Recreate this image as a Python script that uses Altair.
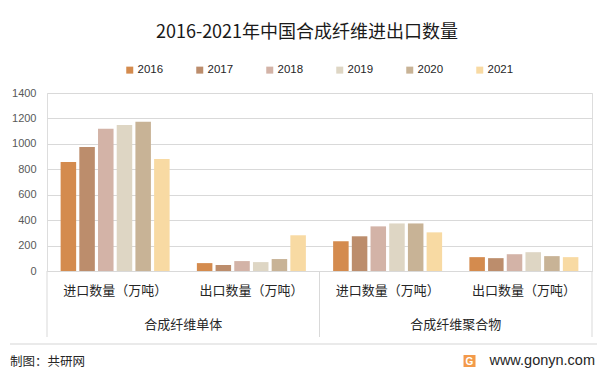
import altair as alt
import pandas as pd

# ---------------- data ----------------
TITLE = "2016-2021年中国合成纤维进出口数量"
groups = ["合成纤维单体", "合成纤维聚合物"]
cats = ["进口数量（万吨）", "出口数量（万吨）"]
years = ["2016", "2017", "2018", "2019", "2020", "2021"]
colors = ["#D48B4E", "#BC8D6C", "#D3B3A7", "#DED6C4", "#C8B396", "#F8DAA3"]

monomer_import = [858, 976, 1118, 1149, 1173, 881]
monomer_export = [62, 47, 78, 70, 94, 281]
polymer_import = [234, 273, 351, 374, 374, 304]
polymer_export = [109, 101, 132, 148, 117, 109]

y_ticks = [0, 200, 400, 600, 800, 1000, 1200, 1400]
source_note = "制图：共研网"
site = "www.gonyn.com"

series = {
    (groups[0], cats[0]): monomer_import,
    (groups[0], cats[1]): monomer_export,
    (groups[1], cats[0]): polymer_import,
    (groups[1], cats[1]): polymer_export,
}

rows = []
keys = []
for g in groups:
    for c in cats:
        k = g + "|" + c
        keys.append(k)
        for y, v in zip(years, series[(g, c)]):
            rows.append({"key": k, "group": g, "cat": c, "year": y, "value": v})
df = pd.DataFrame(rows)

CJK = "Noto Sans CJK SC"
LAT = "Liberation Sans"
W, H = 545, 178
GRID = "#D9D9D9"

bars = alt.Chart(df).mark_bar().encode(
    x=alt.X("key:N", sort=keys,
            scale=alt.Scale(paddingInner=0.2, paddingOuter=0.1),
            axis=alt.Axis(title=None, labelExpr="split(datum.label, '|')[1]",
                          labelAngle=0, ticks=False, domainColor=GRID,
                          labelFont=CJK, labelFontSize=13, labelColor="#262626",
                          labelPadding=13, grid=False)),
    xOffset=alt.XOffset("year:N", sort=years,
                        scale=alt.Scale(paddingInner=0.17, paddingOuter=0)),
    y=alt.Y("value:Q", scale=alt.Scale(domain=[0, 1400]),
            axis=alt.Axis(title=None, values=y_ticks, format="d", domain=False, ticks=False,
                          gridColor=GRID, labelFont=LAT, labelFontSize=11,
                          labelColor="#595959", labelPadding=11)),
    color=alt.Color("year:N", sort=years,
                    scale=alt.Scale(domain=years, range=colors),
                    legend=alt.Legend(title=None, orient="none", legendX=77, legendY=-29,
                                      direction="horizontal", columns=6,
                                      symbolType="square", symbolSize=49,
                                      symbolStrokeWidth=0, labelFont=LAT,
                                      labelFontSize=11.5, labelColor="#262626",
                                      columnPadding=30, labelOffset=2, padding=0)),
)

gdf = pd.DataFrame({"group": groups})
gscale = alt.Scale(domain=groups, paddingInner=0, paddingOuter=0)

group_labels = alt.Chart(gdf).mark_text(font=CJK, fontSize=13, color="#262626").encode(
    x=alt.X("group:N", scale=gscale, axis=None),
    y=alt.value(232),
    text="group:N",
)

dividers = alt.Chart(gdf).mark_rule(color=GRID, strokeWidth=1).encode(
    x=alt.X("group:N", scale=gscale, axis=None, bandPosition=0),
    y=alt.value(H),
    y2=alt.value(244),
)
last_divider = alt.Chart(pd.DataFrame({"group": groups[-1:]})).mark_rule(
    color=GRID, strokeWidth=1).encode(
    x=alt.X("group:N", scale=alt.Scale(paddingInner=0, paddingOuter=0),
            axis=None, bandPosition=1),
    y=alt.value(H),
    y2=alt.value(244),
)

one = pd.DataFrame({"t": [TITLE]})
title = alt.Chart(one).mark_text(font=CJK, fontSize=18, color="#1a1a1a").encode(
    x=alt.value(260), y=alt.value(-60), text="t:N")

footer_line = alt.Chart(pd.DataFrame({"a": [0]})).mark_rule(color="#E3E3E3", strokeWidth=1.5).encode(
    x=alt.value(-37), x2=alt.value(550), y=alt.value(251))

note = alt.Chart(pd.DataFrame({"t": [source_note]})).mark_text(
    font=CJK, fontSize=12.5, color="#262626", align="left").encode(
    x=alt.value(-37), y=alt.value(269), text="t:N")

site_txt = alt.Chart(pd.DataFrame({"t": [site]})).mark_text(
    font=LAT, fontSize=14.5, color="#262626", align="right").encode(
    x=alt.value(548), y=alt.value(268), text="t:N")

icon = alt.Chart(pd.DataFrame({"t": ["G"]})).mark_point(
    shape="square", filled=True, size=144, color="#F39A4A", opacity=1).encode(
    x=alt.value(422.5), y=alt.value(268))
icon_g = alt.Chart(pd.DataFrame({"t": ["G"]})).mark_text(
    font=LAT, fontSize=10, fontWeight="bold", color="white").encode(
    x=alt.value(422.5), y=alt.value(268.5), text="t:N")

chart = alt.layer(
    bars, group_labels, dividers, last_divider, title, footer_line, note, site_txt, icon, icon_g
).resolve_scale(x="independent").properties(
    width=W, height=H,
    autosize=alt.AutoSizeParams(type="none"),
    padding={"left": 39, "top": 85, "right": 12, "bottom": 100},
).configure_view(stroke=None).configure(background="white")

chart.save("out.html", embed_options={"renderer": "svg", "actions": False})
